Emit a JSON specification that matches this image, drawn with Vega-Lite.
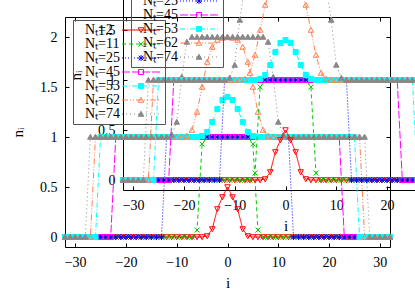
{
"$schema":"https://vega.github.io/schema/vega-lite/v6.json",
"width":325,"height":230,
"autosize":{"type":"none"},
"padding":{"left":65,"top":17,"right":25,"bottom":44},
"background":"white",
"config":{
 "view":{"stroke":"black","strokeWidth":1},
 "font":"Liberation Serif",
 "axis":{"labelFont":"Liberation Serif","labelFontSize":14,"labelColor":"black","titleFont":"Liberation Serif","titleFontSize":15,"titleFontWeight":"normal","titleColor":"black","grid":false,"tickColor":"black","domainColor":"black","tickSize":-4,"labelPadding":12,"tickWidth":1,"domainWidth":1},
 "legend":{"labelFont":"Liberation Serif","labelFontSize":14,"labelColor":"black"}
},
"data":{"values":[
{"N":"Nₜ=2","i":-32,"n":0},{"N":"Nₜ=2","i":-31,"n":0},{"N":"Nₜ=2","i":-30,"n":0},{"N":"Nₜ=2","i":-29,"n":0},{"N":"Nₜ=2","i":-28,"n":0},{"N":"Nₜ=2","i":-27,"n":0},{"N":"Nₜ=2","i":-26,"n":0},{"N":"Nₜ=2","i":-25,"n":0},{"N":"Nₜ=2","i":-24,"n":0},{"N":"Nₜ=2","i":-23,"n":0},{"N":"Nₜ=2","i":-22,"n":0},{"N":"Nₜ=2","i":-21,"n":0},{"N":"Nₜ=2","i":-20,"n":0},{"N":"Nₜ=2","i":-19,"n":0},{"N":"Nₜ=2","i":-18,"n":0},{"N":"Nₜ=2","i":-17,"n":0},{"N":"Nₜ=2","i":-16,"n":0},{"N":"Nₜ=2","i":-15,"n":0},{"N":"Nₜ=2","i":-14,"n":0},{"N":"Nₜ=2","i":-13,"n":0},{"N":"Nₜ=2","i":-12,"n":0},{"N":"Nₜ=2","i":-11,"n":0},{"N":"Nₜ=2","i":-10,"n":0},{"N":"Nₜ=2","i":-9,"n":0},{"N":"Nₜ=2","i":-8,"n":0},{"N":"Nₜ=2","i":-7,"n":0},{"N":"Nₜ=2","i":-6,"n":0},{"N":"Nₜ=2","i":-5,"n":0},{"N":"Nₜ=2","i":-4,"n":0.01},{"N":"Nₜ=2","i":-3,"n":0.08},{"N":"Nₜ=2","i":-2,"n":0.28},{"N":"Nₜ=2","i":-1,"n":0.4},{"N":"Nₜ=2","i":0,"n":0.5},{"N":"Nₜ=2","i":1,"n":0.4},{"N":"Nₜ=2","i":2,"n":0.28},{"N":"Nₜ=2","i":3,"n":0.08},{"N":"Nₜ=2","i":4,"n":0.01},{"N":"Nₜ=2","i":5,"n":0},{"N":"Nₜ=2","i":6,"n":0},{"N":"Nₜ=2","i":7,"n":0},{"N":"Nₜ=2","i":8,"n":0},{"N":"Nₜ=2","i":9,"n":0},{"N":"Nₜ=2","i":10,"n":0},{"N":"Nₜ=2","i":11,"n":0},{"N":"Nₜ=2","i":12,"n":0},{"N":"Nₜ=2","i":13,"n":0},{"N":"Nₜ=2","i":14,"n":0},{"N":"Nₜ=2","i":15,"n":0},{"N":"Nₜ=2","i":16,"n":0},{"N":"Nₜ=2","i":17,"n":0},{"N":"Nₜ=2","i":18,"n":0},{"N":"Nₜ=2","i":19,"n":0},{"N":"Nₜ=2","i":20,"n":0},{"N":"Nₜ=2","i":21,"n":0},{"N":"Nₜ=2","i":22,"n":0},{"N":"Nₜ=2","i":23,"n":0},{"N":"Nₜ=2","i":24,"n":0},{"N":"Nₜ=2","i":25,"n":0},{"N":"Nₜ=2","i":26,"n":0},{"N":"Nₜ=2","i":27,"n":0},{"N":"Nₜ=2","i":28,"n":0},{"N":"Nₜ=2","i":29,"n":0},{"N":"Nₜ=2","i":30,"n":0},{"N":"Nₜ=2","i":31,"n":0},{"N":"Nₜ=2","i":32,"n":0},
{"N":"Nₜ=11","i":-32,"n":0},{"N":"Nₜ=11","i":-31,"n":0},{"N":"Nₜ=11","i":-30,"n":0},{"N":"Nₜ=11","i":-29,"n":0},{"N":"Nₜ=11","i":-28,"n":0},{"N":"Nₜ=11","i":-27,"n":0},{"N":"Nₜ=11","i":-26,"n":0},{"N":"Nₜ=11","i":-25,"n":0},{"N":"Nₜ=11","i":-24,"n":0},{"N":"Nₜ=11","i":-23,"n":0},{"N":"Nₜ=11","i":-22,"n":0},{"N":"Nₜ=11","i":-21,"n":0},{"N":"Nₜ=11","i":-20,"n":0},{"N":"Nₜ=11","i":-19,"n":0},{"N":"Nₜ=11","i":-18,"n":0},{"N":"Nₜ=11","i":-17,"n":0},{"N":"Nₜ=11","i":-16,"n":0},{"N":"Nₜ=11","i":-15,"n":0},{"N":"Nₜ=11","i":-14,"n":0},{"N":"Nₜ=11","i":-13,"n":0},{"N":"Nₜ=11","i":-12,"n":0},{"N":"Nₜ=11","i":-11,"n":0},{"N":"Nₜ=11","i":-10,"n":0},{"N":"Nₜ=11","i":-9,"n":0},{"N":"Nₜ=11","i":-8,"n":0},{"N":"Nₜ=11","i":-7,"n":0},{"N":"Nₜ=11","i":-6,"n":0.07},{"N":"Nₜ=11","i":-5,"n":0.93},{"N":"Nₜ=11","i":-4,"n":1},{"N":"Nₜ=11","i":-3,"n":1},{"N":"Nₜ=11","i":-2,"n":1},{"N":"Nₜ=11","i":-1,"n":1},{"N":"Nₜ=11","i":0,"n":1},{"N":"Nₜ=11","i":1,"n":1},{"N":"Nₜ=11","i":2,"n":1},{"N":"Nₜ=11","i":3,"n":1},{"N":"Nₜ=11","i":4,"n":1},{"N":"Nₜ=11","i":5,"n":0.93},{"N":"Nₜ=11","i":6,"n":0.07},{"N":"Nₜ=11","i":7,"n":0},{"N":"Nₜ=11","i":8,"n":0},{"N":"Nₜ=11","i":9,"n":0},{"N":"Nₜ=11","i":10,"n":0},{"N":"Nₜ=11","i":11,"n":0},{"N":"Nₜ=11","i":12,"n":0},{"N":"Nₜ=11","i":13,"n":0},{"N":"Nₜ=11","i":14,"n":0},{"N":"Nₜ=11","i":15,"n":0},{"N":"Nₜ=11","i":16,"n":0},{"N":"Nₜ=11","i":17,"n":0},{"N":"Nₜ=11","i":18,"n":0},{"N":"Nₜ=11","i":19,"n":0},{"N":"Nₜ=11","i":20,"n":0},{"N":"Nₜ=11","i":21,"n":0},{"N":"Nₜ=11","i":22,"n":0},{"N":"Nₜ=11","i":23,"n":0},{"N":"Nₜ=11","i":24,"n":0},{"N":"Nₜ=11","i":25,"n":0},{"N":"Nₜ=11","i":26,"n":0},{"N":"Nₜ=11","i":27,"n":0},{"N":"Nₜ=11","i":28,"n":0},{"N":"Nₜ=11","i":29,"n":0},{"N":"Nₜ=11","i":30,"n":0},{"N":"Nₜ=11","i":31,"n":0},{"N":"Nₜ=11","i":32,"n":0},
{"N":"Nₜ=25","i":-32,"n":0},{"N":"Nₜ=25","i":-31,"n":0},{"N":"Nₜ=25","i":-30,"n":0},{"N":"Nₜ=25","i":-29,"n":0},{"N":"Nₜ=25","i":-28,"n":0},{"N":"Nₜ=25","i":-27,"n":0},{"N":"Nₜ=25","i":-26,"n":0},{"N":"Nₜ=25","i":-25,"n":0},{"N":"Nₜ=25","i":-24,"n":0},{"N":"Nₜ=25","i":-23,"n":0},{"N":"Nₜ=25","i":-22,"n":0},{"N":"Nₜ=25","i":-21,"n":0},{"N":"Nₜ=25","i":-20,"n":0},{"N":"Nₜ=25","i":-19,"n":0},{"N":"Nₜ=25","i":-18,"n":0},{"N":"Nₜ=25","i":-17,"n":0},{"N":"Nₜ=25","i":-16,"n":0},{"N":"Nₜ=25","i":-15,"n":0},{"N":"Nₜ=25","i":-14,"n":0},{"N":"Nₜ=25","i":-13,"n":0},{"N":"Nₜ=25","i":-12,"n":1},{"N":"Nₜ=25","i":-11,"n":1},{"N":"Nₜ=25","i":-10,"n":1},{"N":"Nₜ=25","i":-9,"n":1},{"N":"Nₜ=25","i":-8,"n":1},{"N":"Nₜ=25","i":-7,"n":1},{"N":"Nₜ=25","i":-6,"n":1},{"N":"Nₜ=25","i":-5,"n":1},{"N":"Nₜ=25","i":-4,"n":1},{"N":"Nₜ=25","i":-3,"n":1},{"N":"Nₜ=25","i":-2,"n":1},{"N":"Nₜ=25","i":-1,"n":1},{"N":"Nₜ=25","i":0,"n":1},{"N":"Nₜ=25","i":1,"n":1},{"N":"Nₜ=25","i":2,"n":1},{"N":"Nₜ=25","i":3,"n":1},{"N":"Nₜ=25","i":4,"n":1},{"N":"Nₜ=25","i":5,"n":1},{"N":"Nₜ=25","i":6,"n":1},{"N":"Nₜ=25","i":7,"n":1},{"N":"Nₜ=25","i":8,"n":1},{"N":"Nₜ=25","i":9,"n":1},{"N":"Nₜ=25","i":10,"n":1},{"N":"Nₜ=25","i":11,"n":1},{"N":"Nₜ=25","i":12,"n":1},{"N":"Nₜ=25","i":13,"n":0},{"N":"Nₜ=25","i":14,"n":0},{"N":"Nₜ=25","i":15,"n":0},{"N":"Nₜ=25","i":16,"n":0},{"N":"Nₜ=25","i":17,"n":0},{"N":"Nₜ=25","i":18,"n":0},{"N":"Nₜ=25","i":19,"n":0},{"N":"Nₜ=25","i":20,"n":0},{"N":"Nₜ=25","i":21,"n":0},{"N":"Nₜ=25","i":22,"n":0},{"N":"Nₜ=25","i":23,"n":0},{"N":"Nₜ=25","i":24,"n":0},{"N":"Nₜ=25","i":25,"n":0},{"N":"Nₜ=25","i":26,"n":0},{"N":"Nₜ=25","i":27,"n":0},{"N":"Nₜ=25","i":28,"n":0},{"N":"Nₜ=25","i":29,"n":0},{"N":"Nₜ=25","i":30,"n":0},{"N":"Nₜ=25","i":31,"n":0},{"N":"Nₜ=25","i":32,"n":0},
{"N":"Nₜ=45","i":-32,"n":0},{"N":"Nₜ=45","i":-31,"n":0},{"N":"Nₜ=45","i":-30,"n":0},{"N":"Nₜ=45","i":-29,"n":0},{"N":"Nₜ=45","i":-28,"n":0},{"N":"Nₜ=45","i":-27,"n":0},{"N":"Nₜ=45","i":-26,"n":0},{"N":"Nₜ=45","i":-25,"n":0},{"N":"Nₜ=45","i":-24,"n":0},{"N":"Nₜ=45","i":-23,"n":0},{"N":"Nₜ=45","i":-22,"n":1},{"N":"Nₜ=45","i":-21,"n":1},{"N":"Nₜ=45","i":-20,"n":1},{"N":"Nₜ=45","i":-19,"n":1},{"N":"Nₜ=45","i":-18,"n":1},{"N":"Nₜ=45","i":-17,"n":1},{"N":"Nₜ=45","i":-16,"n":1},{"N":"Nₜ=45","i":-15,"n":1},{"N":"Nₜ=45","i":-14,"n":1},{"N":"Nₜ=45","i":-13,"n":1},{"N":"Nₜ=45","i":-12,"n":1},{"N":"Nₜ=45","i":-11,"n":1},{"N":"Nₜ=45","i":-10,"n":1},{"N":"Nₜ=45","i":-9,"n":1},{"N":"Nₜ=45","i":-8,"n":1},{"N":"Nₜ=45","i":-7,"n":1},{"N":"Nₜ=45","i":-6,"n":1},{"N":"Nₜ=45","i":-5,"n":1},{"N":"Nₜ=45","i":-4,"n":1},{"N":"Nₜ=45","i":-3,"n":1},{"N":"Nₜ=45","i":-2,"n":1},{"N":"Nₜ=45","i":-1,"n":1},{"N":"Nₜ=45","i":0,"n":1},{"N":"Nₜ=45","i":1,"n":1},{"N":"Nₜ=45","i":2,"n":1},{"N":"Nₜ=45","i":3,"n":1},{"N":"Nₜ=45","i":4,"n":1},{"N":"Nₜ=45","i":5,"n":1},{"N":"Nₜ=45","i":6,"n":1},{"N":"Nₜ=45","i":7,"n":1},{"N":"Nₜ=45","i":8,"n":1},{"N":"Nₜ=45","i":9,"n":1},{"N":"Nₜ=45","i":10,"n":1},{"N":"Nₜ=45","i":11,"n":1},{"N":"Nₜ=45","i":12,"n":1},{"N":"Nₜ=45","i":13,"n":1},{"N":"Nₜ=45","i":14,"n":1},{"N":"Nₜ=45","i":15,"n":1},{"N":"Nₜ=45","i":16,"n":1},{"N":"Nₜ=45","i":17,"n":1},{"N":"Nₜ=45","i":18,"n":1},{"N":"Nₜ=45","i":19,"n":1},{"N":"Nₜ=45","i":20,"n":1},{"N":"Nₜ=45","i":21,"n":1},{"N":"Nₜ=45","i":22,"n":1},{"N":"Nₜ=45","i":23,"n":0},{"N":"Nₜ=45","i":24,"n":0},{"N":"Nₜ=45","i":25,"n":0},{"N":"Nₜ=45","i":26,"n":0},{"N":"Nₜ=45","i":27,"n":0},{"N":"Nₜ=45","i":28,"n":0},{"N":"Nₜ=45","i":29,"n":0},{"N":"Nₜ=45","i":30,"n":0},{"N":"Nₜ=45","i":31,"n":0},{"N":"Nₜ=45","i":32,"n":0},
{"N":"Nₜ=53","i":-32,"n":0},{"N":"Nₜ=53","i":-31,"n":0},{"N":"Nₜ=53","i":-30,"n":0},{"N":"Nₜ=53","i":-29,"n":0},{"N":"Nₜ=53","i":-28,"n":0},{"N":"Nₜ=53","i":-27,"n":0},{"N":"Nₜ=53","i":-26,"n":0},{"N":"Nₜ=53","i":-25,"n":1},{"N":"Nₜ=53","i":-24,"n":1},{"N":"Nₜ=53","i":-23,"n":1},{"N":"Nₜ=53","i":-22,"n":1},{"N":"Nₜ=53","i":-21,"n":1},{"N":"Nₜ=53","i":-20,"n":1},{"N":"Nₜ=53","i":-19,"n":1},{"N":"Nₜ=53","i":-18,"n":1},{"N":"Nₜ=53","i":-17,"n":1},{"N":"Nₜ=53","i":-16,"n":1},{"N":"Nₜ=53","i":-15,"n":1},{"N":"Nₜ=53","i":-14,"n":1},{"N":"Nₜ=53","i":-13,"n":1},{"N":"Nₜ=53","i":-12,"n":1},{"N":"Nₜ=53","i":-11,"n":1},{"N":"Nₜ=53","i":-10,"n":1},{"N":"Nₜ=53","i":-9,"n":1},{"N":"Nₜ=53","i":-8,"n":1},{"N":"Nₜ=53","i":-7,"n":1},{"N":"Nₜ=53","i":-6,"n":1},{"N":"Nₜ=53","i":-5,"n":1.01},{"N":"Nₜ=53","i":-4,"n":1.05},{"N":"Nₜ=53","i":-3,"n":1.15},{"N":"Nₜ=53","i":-2,"n":1.28},{"N":"Nₜ=53","i":-1,"n":1.37},{"N":"Nₜ=53","i":0,"n":1.4},{"N":"Nₜ=53","i":1,"n":1.37},{"N":"Nₜ=53","i":2,"n":1.28},{"N":"Nₜ=53","i":3,"n":1.15},{"N":"Nₜ=53","i":4,"n":1.05},{"N":"Nₜ=53","i":5,"n":1.01},{"N":"Nₜ=53","i":6,"n":1},{"N":"Nₜ=53","i":7,"n":1},{"N":"Nₜ=53","i":8,"n":1},{"N":"Nₜ=53","i":9,"n":1},{"N":"Nₜ=53","i":10,"n":1},{"N":"Nₜ=53","i":11,"n":1},{"N":"Nₜ=53","i":12,"n":1},{"N":"Nₜ=53","i":13,"n":1},{"N":"Nₜ=53","i":14,"n":1},{"N":"Nₜ=53","i":15,"n":1},{"N":"Nₜ=53","i":16,"n":1},{"N":"Nₜ=53","i":17,"n":1},{"N":"Nₜ=53","i":18,"n":1},{"N":"Nₜ=53","i":19,"n":1},{"N":"Nₜ=53","i":20,"n":1},{"N":"Nₜ=53","i":21,"n":1},{"N":"Nₜ=53","i":22,"n":1},{"N":"Nₜ=53","i":23,"n":1},{"N":"Nₜ=53","i":24,"n":1},{"N":"Nₜ=53","i":25,"n":1},{"N":"Nₜ=53","i":26,"n":0},{"N":"Nₜ=53","i":27,"n":0},{"N":"Nₜ=53","i":28,"n":0},{"N":"Nₜ=53","i":29,"n":0},{"N":"Nₜ=53","i":30,"n":0},{"N":"Nₜ=53","i":31,"n":0},{"N":"Nₜ=53","i":32,"n":0},
{"N":"Nₜ=62","i":-32,"n":0},{"N":"Nₜ=62","i":-31,"n":0},{"N":"Nₜ=62","i":-30,"n":0},{"N":"Nₜ=62","i":-29,"n":0},{"N":"Nₜ=62","i":-28,"n":0},{"N":"Nₜ=62","i":-27,"n":0},{"N":"Nₜ=62","i":-26,"n":1},{"N":"Nₜ=62","i":-25,"n":1},{"N":"Nₜ=62","i":-24,"n":1},{"N":"Nₜ=62","i":-23,"n":1},{"N":"Nₜ=62","i":-22,"n":1},{"N":"Nₜ=62","i":-21,"n":1},{"N":"Nₜ=62","i":-20,"n":1},{"N":"Nₜ=62","i":-19,"n":1},{"N":"Nₜ=62","i":-18,"n":1},{"N":"Nₜ=62","i":-17,"n":1},{"N":"Nₜ=62","i":-16,"n":1},{"N":"Nₜ=62","i":-15,"n":1},{"N":"Nₜ=62","i":-14,"n":1},{"N":"Nₜ=62","i":-13,"n":1},{"N":"Nₜ=62","i":-12,"n":1},{"N":"Nₜ=62","i":-11,"n":1},{"N":"Nₜ=62","i":-10,"n":1},{"N":"Nₜ=62","i":-9,"n":1},{"N":"Nₜ=62","i":-8,"n":1.01},{"N":"Nₜ=62","i":-7,"n":1.07},{"N":"Nₜ=62","i":-6,"n":1.25},{"N":"Nₜ=62","i":-5,"n":1.5},{"N":"Nₜ=62","i":-4,"n":1.75},{"N":"Nₜ=62","i":-3,"n":1.9},{"N":"Nₜ=62","i":-2,"n":1.97},{"N":"Nₜ=62","i":-1,"n":1.99},{"N":"Nₜ=62","i":0,"n":2},{"N":"Nₜ=62","i":1,"n":1.99},{"N":"Nₜ=62","i":2,"n":1.97},{"N":"Nₜ=62","i":3,"n":1.9},{"N":"Nₜ=62","i":4,"n":1.75},{"N":"Nₜ=62","i":5,"n":1.5},{"N":"Nₜ=62","i":6,"n":1.25},{"N":"Nₜ=62","i":7,"n":1.07},{"N":"Nₜ=62","i":8,"n":1.01},{"N":"Nₜ=62","i":9,"n":1},{"N":"Nₜ=62","i":10,"n":1},{"N":"Nₜ=62","i":11,"n":1},{"N":"Nₜ=62","i":12,"n":1},{"N":"Nₜ=62","i":13,"n":1},{"N":"Nₜ=62","i":14,"n":1},{"N":"Nₜ=62","i":15,"n":1},{"N":"Nₜ=62","i":16,"n":1},{"N":"Nₜ=62","i":17,"n":1},{"N":"Nₜ=62","i":18,"n":1},{"N":"Nₜ=62","i":19,"n":1},{"N":"Nₜ=62","i":20,"n":1},{"N":"Nₜ=62","i":21,"n":1},{"N":"Nₜ=62","i":22,"n":1},{"N":"Nₜ=62","i":23,"n":1},{"N":"Nₜ=62","i":24,"n":1},{"N":"Nₜ=62","i":25,"n":1},{"N":"Nₜ=62","i":26,"n":1},{"N":"Nₜ=62","i":27,"n":0},{"N":"Nₜ=62","i":28,"n":0},{"N":"Nₜ=62","i":29,"n":0},{"N":"Nₜ=62","i":30,"n":0},{"N":"Nₜ=62","i":31,"n":0},{"N":"Nₜ=62","i":32,"n":0},
{"N":"Nₜ=74","i":-32,"n":0},{"N":"Nₜ=74","i":-31,"n":0},{"N":"Nₜ=74","i":-30,"n":0},{"N":"Nₜ=74","i":-29,"n":0},{"N":"Nₜ=74","i":-28,"n":0},{"N":"Nₜ=74","i":-27,"n":1},{"N":"Nₜ=74","i":-26,"n":1},{"N":"Nₜ=74","i":-25,"n":1},{"N":"Nₜ=74","i":-24,"n":1},{"N":"Nₜ=74","i":-23,"n":1},{"N":"Nₜ=74","i":-22,"n":1},{"N":"Nₜ=74","i":-21,"n":1},{"N":"Nₜ=74","i":-20,"n":1},{"N":"Nₜ=74","i":-19,"n":1},{"N":"Nₜ=74","i":-18,"n":1},{"N":"Nₜ=74","i":-17,"n":1},{"N":"Nₜ=74","i":-16,"n":1},{"N":"Nₜ=74","i":-15,"n":1},{"N":"Nₜ=74","i":-14,"n":1},{"N":"Nₜ=74","i":-13,"n":1},{"N":"Nₜ=74","i":-12,"n":1},{"N":"Nₜ=74","i":-11,"n":1.02},{"N":"Nₜ=74","i":-10,"n":1.15},{"N":"Nₜ=74","i":-9,"n":1.6},{"N":"Nₜ=74","i":-8,"n":1.95},{"N":"Nₜ=74","i":-7,"n":2},{"N":"Nₜ=74","i":-6,"n":2},{"N":"Nₜ=74","i":-5,"n":2},{"N":"Nₜ=74","i":-4,"n":2},{"N":"Nₜ=74","i":-3,"n":2},{"N":"Nₜ=74","i":-2,"n":2},{"N":"Nₜ=74","i":-1,"n":2},{"N":"Nₜ=74","i":0,"n":2},{"N":"Nₜ=74","i":1,"n":2},{"N":"Nₜ=74","i":2,"n":2},{"N":"Nₜ=74","i":3,"n":2},{"N":"Nₜ=74","i":4,"n":2},{"N":"Nₜ=74","i":5,"n":2},{"N":"Nₜ=74","i":6,"n":2},{"N":"Nₜ=74","i":7,"n":2},{"N":"Nₜ=74","i":8,"n":1.95},{"N":"Nₜ=74","i":9,"n":1.6},{"N":"Nₜ=74","i":10,"n":1.15},{"N":"Nₜ=74","i":11,"n":1.02},{"N":"Nₜ=74","i":12,"n":1},{"N":"Nₜ=74","i":13,"n":1},{"N":"Nₜ=74","i":14,"n":1},{"N":"Nₜ=74","i":15,"n":1},{"N":"Nₜ=74","i":16,"n":1},{"N":"Nₜ=74","i":17,"n":1},{"N":"Nₜ=74","i":18,"n":1},{"N":"Nₜ=74","i":19,"n":1},{"N":"Nₜ=74","i":20,"n":1},{"N":"Nₜ=74","i":21,"n":1},{"N":"Nₜ=74","i":22,"n":1},{"N":"Nₜ=74","i":23,"n":1},{"N":"Nₜ=74","i":24,"n":1},{"N":"Nₜ=74","i":25,"n":1},{"N":"Nₜ=74","i":26,"n":1},{"N":"Nₜ=74","i":27,"n":1},{"N":"Nₜ=74","i":28,"n":0},{"N":"Nₜ=74","i":29,"n":0},{"N":"Nₜ=74","i":30,"n":0},{"N":"Nₜ=74","i":31,"n":0},{"N":"Nₜ=74","i":32,"n":0}
]},
"layer":[
  {"mark":{"type":"line","strokeWidth":1},
   "encoding":{
    "x":{"field":"i","type":"quantitative","scale":{"domain":[-32,32],"nice":false,"zero":false},"axis":{"orient":"bottom","values":[-30,-20,-10,0,10,20,30],"title":"i","titlePadding":6,"domain":false}},
    "y":{"field":"n","type":"quantitative","scale":{"domain":[-0.1,2.2],"nice":false,"zero":false},"axis":{"orient":"left","values":[0,0.5,1,1.5,2],"format":"~g","title":"nᵢ","titlePadding":14,"domain":false}},
    "stroke":{"field":"N","type":"nominal","scale":{"domain":["Nₜ=2","Nₜ=11","Nₜ=25","Nₜ=45","Nₜ=53","Nₜ=62","Nₜ=74"],"range":["#ff0000","#00cc00","#0000ff","#ff00ff","#00ffff","#ff7f50","#888888"]},
     "legend":{"title":null,"orient":"none","legendX":8,"legendY":3,"strokeColor":"#555555","padding":3,"rowPadding":0,"symbolType":"M-7.6,0H7.6","symbolSize":25,"symbolOffset":58,"labelOffset":-63,"symbolStrokeWidth":1,"labelBaseline":"middle"}},
    "strokeDash":{"field":"N","type":"nominal","scale":{"domain":["Nₜ=2","Nₜ=11","Nₜ=25","Nₜ=45","Nₜ=53","Nₜ=62","Nₜ=74"],"range":[[1,0],[4,3],[1,2],[8,2],[5,2,1,2],[6,2,1,2,1,2],[1,3]]},
     "legend":{"title":null,"orient":"none","legendX":8,"legendY":3,"strokeColor":"#555555","padding":3,"rowPadding":0,"symbolType":"M-7.6,0H7.6","symbolSize":25,"symbolOffset":58,"labelOffset":-63,"symbolStrokeWidth":1,"labelBaseline":"middle"}}
   }},
  {"mark":{"type":"point","opacity":1,"strokeWidth":1,"size":25},
   "encoding":{
    "x":{"field":"i","type":"quantitative","scale":{"domain":[-32,32],"nice":false,"zero":false},"axis":{"orient":"top","values":[-30,-20,-10,0,10,20,30],"labels":false,"title":null,"domain":false}},
    "y":{"field":"n","type":"quantitative","scale":{"domain":[-0.1,2.2],"nice":false,"zero":false},"axis":{"orient":"right","values":[0,0.5,1,1.5,2],"labels":false,"title":null,"domain":false}},
    "stroke":{"field":"N","type":"nominal","scale":{"domain":["Nₜ=2","Nₜ=11","Nₜ=25","Nₜ=45","Nₜ=53","Nₜ=62","Nₜ=74"],"range":["#ff0000","#00cc00","#0000ff","#ff00ff","#00ffff","#ff7f50","#888888"]},
     "legend":{"title":null,"orient":"none","legendX":8,"legendY":3,"padding":3,"rowPadding":0,"symbolSize":25,"symbolOffset":58,"labelOffset":-63,"labelExpr":"' '","symbolStrokeWidth":1,"labelBaseline":"middle"}},
    "fill":{"field":"N","type":"nominal","scale":{"domain":["Nₜ=2","Nₜ=11","Nₜ=25","Nₜ=45","Nₜ=53","Nₜ=62","Nₜ=74"],"range":["transparent","transparent","transparent","transparent","#00ffff","transparent","#888888"]},
     "legend":{"title":null,"orient":"none","legendX":8,"legendY":3,"padding":3,"rowPadding":0,"symbolSize":25,"symbolOffset":58,"labelOffset":-63,"labelExpr":"' '","symbolStrokeWidth":1,"labelBaseline":"middle"}},
    "shape":{"field":"N","type":"nominal","scale":{"domain":["Nₜ=2","Nₜ=11","Nₜ=25","Nₜ=45","Nₜ=53","Nₜ=62","Nₜ=74"],"range":["M-1.1,-0.9H1.1L0,1.1Z","M-1,-1L1,1M-1,1L1,-1","M-1.2,0H1.2M0,-1.2V1.2M-0.9,-0.9L0.9,0.9M-0.9,0.9L0.9,-0.9","M-1,-1H1V1H-1Z","M-1,-1H1V1H-1Z","M-1.1,0.9H1.1L0,-1.1Z","M-1.1,0.9H1.1L0,-1.1Z"]},
     "legend":{"title":null,"orient":"none","legendX":8,"legendY":3,"padding":3,"rowPadding":0,"symbolSize":25,"symbolOffset":58,"labelOffset":-63,"labelExpr":"' '","symbolStrokeWidth":1,"labelBaseline":"middle"}}
   }},
  {"mark":{"type":"line","strokeWidth":1},
   "encoding":{
    "x":{"field":"i","type":"quantitative","scale":{"domain":[-32,32],"nice":false,"zero":false,"range":[58,383]},"axis":{"orient":"bottom","offset":-57,"values":[-30,-20,-10,0,10,20,30],"title":"i","titlePadding":6}},
    "y":{"field":"n","type":"quantitative","scale":{"domain":[-0.1,2.2],"nice":false,"zero":false,"range":[173,-57]},"axis":{"orient":"left","offset":-58,"values":[0,0.5,1,1.5,2],"format":"~g","title":"nᵢ","titlePadding":14}},
    "stroke":{"field":"N","type":"nominal","scale":{"domain":["Nₜ=2","Nₜ=11","Nₜ=25","Nₜ=45","Nₜ=53","Nₜ=62","Nₜ=74"],"range":["#ff0000","#00cc00","#0000ff","#ff00ff","#00ffff","#ff7f50","#888888"]},
     "legend":{"title":null,"orient":"none","legendX":66,"legendY":-54,"strokeColor":"#555555","padding":3,"rowPadding":0,"symbolType":"M-7.6,0H7.6","symbolSize":25,"symbolOffset":58,"labelOffset":-63,"symbolStrokeWidth":1,"labelBaseline":"middle"}},
    "strokeDash":{"field":"N","type":"nominal","scale":{"domain":["Nₜ=2","Nₜ=11","Nₜ=25","Nₜ=45","Nₜ=53","Nₜ=62","Nₜ=74"],"range":[[1,0],[4,3],[1,2],[8,2],[5,2,1,2],[6,2,1,2,1,2],[1,3]]},
     "legend":{"title":null,"orient":"none","legendX":66,"legendY":-54,"strokeColor":"#555555","padding":3,"rowPadding":0,"symbolType":"M-7.6,0H7.6","symbolSize":25,"symbolOffset":58,"labelOffset":-63,"symbolStrokeWidth":1,"labelBaseline":"middle"}}
   }},
  {"mark":{"type":"point","opacity":1,"strokeWidth":1,"size":25},
   "encoding":{
    "x":{"field":"i","type":"quantitative","scale":{"domain":[-32,32],"nice":false,"zero":false,"range":[58,383]},"axis":null},
    "y":{"field":"n","type":"quantitative","scale":{"domain":[-0.1,2.2],"nice":false,"zero":false,"range":[173,-57]},"axis":null},
    "stroke":{"field":"N","type":"nominal","scale":{"domain":["Nₜ=2","Nₜ=11","Nₜ=25","Nₜ=45","Nₜ=53","Nₜ=62","Nₜ=74"],"range":["#ff0000","#00cc00","#0000ff","#ff00ff","#00ffff","#ff7f50","#888888"]},
     "legend":{"title":null,"orient":"none","legendX":66,"legendY":-54,"padding":3,"rowPadding":0,"symbolSize":25,"symbolOffset":58,"labelOffset":-63,"labelExpr":"' '","symbolStrokeWidth":1,"labelBaseline":"middle"}},
    "fill":{"field":"N","type":"nominal","scale":{"domain":["Nₜ=2","Nₜ=11","Nₜ=25","Nₜ=45","Nₜ=53","Nₜ=62","Nₜ=74"],"range":["transparent","transparent","transparent","transparent","#00ffff","transparent","#888888"]},
     "legend":{"title":null,"orient":"none","legendX":66,"legendY":-54,"padding":3,"rowPadding":0,"symbolSize":25,"symbolOffset":58,"labelOffset":-63,"labelExpr":"' '","symbolStrokeWidth":1,"labelBaseline":"middle"}},
    "shape":{"field":"N","type":"nominal","scale":{"domain":["Nₜ=2","Nₜ=11","Nₜ=25","Nₜ=45","Nₜ=53","Nₜ=62","Nₜ=74"],"range":["M-1.1,-0.9H1.1L0,1.1Z","M-1,-1L1,1M-1,1L1,-1","M-1.2,0H1.2M0,-1.2V1.2M-0.9,-0.9L0.9,0.9M-0.9,0.9L0.9,-0.9","M-1,-1H1V1H-1Z","M-1,-1H1V1H-1Z","M-1.1,0.9H1.1L0,-1.1Z","M-1.1,0.9H1.1L0,-1.1Z"]},
     "legend":{"title":null,"orient":"none","legendX":66,"legendY":-54,"padding":3,"rowPadding":0,"symbolSize":25,"symbolOffset":58,"labelOffset":-63,"labelExpr":"' '","symbolStrokeWidth":1,"labelBaseline":"middle"}}
   }}
],
"resolve":{"scale":{"x":"independent","y":"independent","stroke":"independent","strokeDash":"independent","fill":"independent","shape":"independent"}}
}
